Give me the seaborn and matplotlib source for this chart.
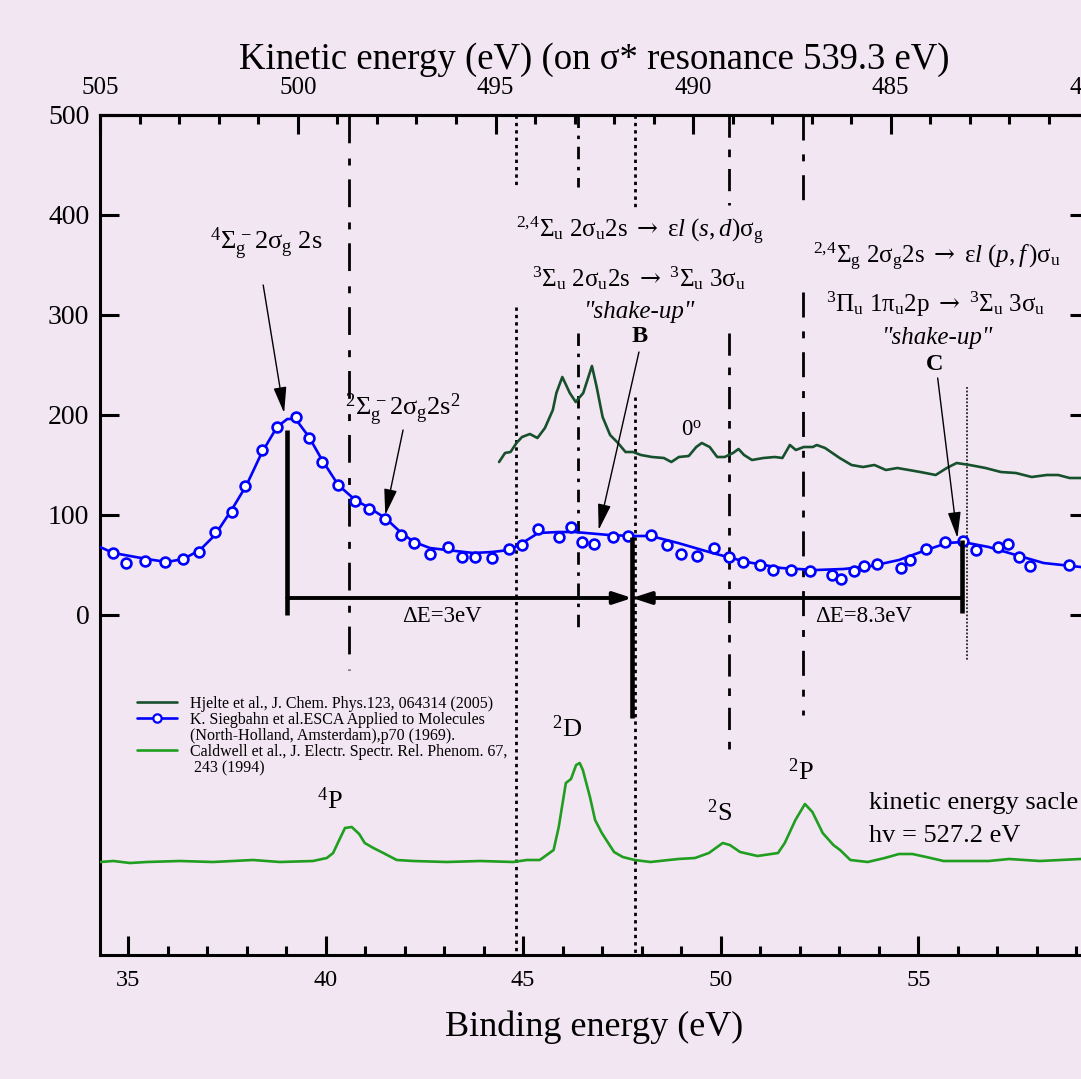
import matplotlib
matplotlib.use("Agg")
import numpy as np
import pandas as pd
import matplotlib.pyplot as plt
from matplotlib.lines import Line2D
from matplotlib.ticker import MultipleLocator, FixedLocator
import seaborn as sns

# ---------------------------------------------------------------- data
# Hjelte et al. (0 deg), binding energy (eV) / counts
hjelte_be = [44.39, 44.54, 44.68, 44.83, 44.97, 45.17, 45.36, 45.55, 45.75, 45.84,
             45.99, 46.18, 46.33, 46.52, 46.74, 46.86, 47.01, 47.20, 47.40, 47.59,
             47.78, 47.98, 48.26, 48.56, 48.75, 48.94, 49.19, 49.38, 49.52, 49.72,
             49.91, 50.10, 50.31, 50.45, 50.59, 50.79, 51.08, 51.37, 51.56, 51.75,
             51.90, 52.10, 52.33, 52.43, 52.64, 53.01, 53.31, 53.60, 53.89, 54.18,
             54.47, 54.76, 55.05, 55.44, 55.72, 55.97, 56.30, 56.70, 57.09, 57.47,
             57.87, 58.25, 58.54, 58.83, 59.11, 59.32]
hjelte_counts = [153, 162, 163, 172, 178, 181, 177, 187, 205, 222,
                 238, 222, 213, 222, 249, 228, 198, 180, 172, 163,
                 163, 160, 158, 157, 153, 158, 159, 168, 172, 168,
                 158, 158, 162, 166, 160, 155, 157, 158, 157, 170,
                 165, 168, 168, 170, 167, 157, 150, 148, 150, 145,
                 147, 145, 143, 140, 147, 152, 150, 147, 143, 142,
                 138, 140, 140, 137, 137, 135]

# Siegbahn et al. (ESCA), measured points
siegbahn_be = [34.63, 34.95, 35.44, 35.94, 36.40, 36.80, 37.20, 37.63, 37.96, 38.38,
               38.77, 39.24, 39.58, 39.92, 40.32, 40.75, 41.11, 41.51, 41.92, 42.24,
               42.64, 43.10, 43.45, 43.79, 44.21, 44.65, 44.98, 45.38, 45.90, 46.20,
               46.50, 46.79, 47.27, 47.65, 48.23, 48.63, 49.00, 49.40, 49.82, 50.20,
               50.57, 50.99, 51.32, 51.78, 52.26, 52.82, 53.04, 53.37, 53.63, 53.95,
               54.57, 54.80, 55.20, 55.67, 56.12, 56.45, 57.01, 57.28, 57.56, 57.82,
               58.81]
siegbahn_counts = [62, 52, 54, 53, 56, 63, 83, 103, 129, 165,
                   188, 198, 177, 153, 130, 114, 106, 96, 80, 72,
                   61, 68, 58, 58, 57, 66, 70, 86, 78, 88,
                   73, 71, 78, 79, 80, 70, 61, 59, 67, 58,
                   53, 50, 45, 45, 44, 40, 36, 44, 49, 51,
                   47, 55, 66, 73, 74, 65, 68, 71, 58, 49,
                   50]

# Siegbahn et al., smoothed curve
smooth_be = [34.29, 34.63, 35.47, 35.98, 36.40, 36.82, 37.20, 37.62, 38.00, 38.38,
             38.77, 39.03, 39.24, 39.58, 39.91, 40.32, 40.75, 41.11, 41.51, 41.92,
             42.24, 42.64, 43.06, 43.74, 44.21, 44.65, 44.98, 45.38, 45.90, 46.30,
             47.17, 47.76, 48.23, 48.92, 49.79, 50.66, 51.53, 52.41, 53.11, 53.81,
             54.51, 55.20, 55.73, 56.12, 56.78, 57.47, 58.17, 59.11, 59.32]
smooth_counts = [68, 62, 56, 53, 56, 65, 80, 105, 130, 162,
                 188, 196, 196, 178, 155, 130, 115, 107, 97, 82,
                 73, 67, 65, 62, 63, 65, 72, 82, 83, 83,
                 80, 79, 79, 72, 62, 53, 47, 45, 46, 49,
                 55, 65, 72, 73, 68, 60, 52, 48, 46]

# Caldwell et al. (hv = 527.2 eV), offset trace
caldwell_be = [34.29, 34.63, 35.05, 35.47, 36.31, 37.15, 38.16, 38.84, 39.68, 40.03,
               40.19, 40.32, 40.49, 40.66, 40.85, 40.99, 41.21, 41.46, 41.80, 42.22,
               43.06, 43.91, 44.75, 45.09, 45.42, 45.77, 45.90, 46.08, 46.21, 46.34,
               46.43, 46.51, 46.69, 46.82, 46.99, 47.30, 47.52, 47.82, 48.22, 48.92,
               49.35, 49.70, 50.05, 50.23, 50.49, 50.93, 51.45, 51.62, 51.89, 52.13,
               52.32, 52.58, 52.85, 53.02, 53.28, 53.72, 54.15, 54.51, 54.85, 55.20,
               55.64, 56.78, 57.30, 58.08, 59.11, 59.32]
caldwell_counts = [-247, -246, -248, -247, -246, -247, -245, -247, -246, -243,
                   -238, -227, -213, -212, -219, -228, -233, -238, -245, -246,
                   -247, -246, -247, -245, -245, -235, -212, -168, -164, -150,
                   -148, -155, -182, -205, -218, -237, -242, -245, -247, -244,
                   -243, -238, -228, -230, -237, -241, -238, -228, -205, -189,
                   -197, -218, -230, -235, -245, -247, -243, -239, -239, -242,
                   -246, -246, -244, -246, -244, -245]

# reference lines: position (eV) and the segments (counts) they span
ref_lines_be = [40.59, 44.82, 46.38, 47.83, 50.22, 52.08, 56.22]
ref_lines_segments = [[(500, -55)],
                      [(500, 430), (308, -340)],
                      [(500, 428), (282, -13)],
                      [(500, 405), (218, -340)],
                      [(500, 410), (282, -135)],
                      [(500, 415), (323, -100)],
                      [(228, -45)]]

# peak markers A, B, C: position and vertical extent
peak_be = [39.03, 47.76, 56.11]
peak_span = [(185, 0), (78, -103), (75, 2)]
delta_level = 17
delta_labels = ["ΔE=3eV", "ΔE=8.3eV"]

photon_energy = 539.3
kinetic_ticks = [505, 500, 495, 490, 485, 480]

# ---------------------------------------------------------------- style
sns.set_theme(style="ticks", rc={
    "axes.linewidth": 2.2, "axes.edgecolor": "black", "text.color": "black",
    "axes.labelcolor": "black", "xtick.color": "black", "ytick.color": "black"})
plt.rcParams["font.family"] = ["Liberation Serif", "DejaVu Serif"]
plt.rcParams["mathtext.fontset"] = "custom"
plt.rcParams["mathtext.rm"] = "Liberation Serif"
plt.rcParams["mathtext.it"] = "Liberation Serif:italic"
plt.rcParams["mathtext.bf"] = "Liberation Serif:bold"
plt.rcParams["mathtext.sf"] = "DejaVu Serif"
plt.rcParams["lines.scale_dashes"] = False

BG = "#f2e6f2"
DARK_GREEN = "#17502c"
BLUE = "#0000ff"
GREEN = "#1f9e1f"

fig = plt.figure(figsize=(10.81, 10.79), dpi=100, facecolor=BG)
ax = fig.add_axes([100 / 1081, 1 - 955 / 1079, 989 / 1081, 840 / 1079])
ax.set_facecolor(BG)

# ---------------------------------------------------------------- reference lines
line_styles = [
    dict(lw=2.0, dashes=(20, 11, 5, 10)),
    dict(lw=2.0, dashes=(2.4, 2.9)),
    dict(lw=2.0, dashes=(9, 5.5, 2.5, 5.5)),
    dict(lw=2.0, dashes=(2.4, 2.9)),
    dict(lw=2.0, dashes=(16, 8.5, 5.5, 8.5)),
    dict(lw=2.0, dashes=(18, 10, 5, 10)),
    dict(lw=1.1, dashes=(1.3, 1.3)),
]
for xb, segs, st in zip(ref_lines_be, ref_lines_segments, line_styles):
    for y0, y1 in segs:
        ax.plot([xb, xb], [y0, y1], color="black", zorder=1, **st)

# ---------------------------------------------------------------- spectra
df_h = pd.DataFrame({"be": hjelte_be, "counts": hjelte_counts})
df_s = pd.DataFrame({"be": smooth_be, "counts": smooth_counts})
df_p = pd.DataFrame({"be": siegbahn_be, "counts": siegbahn_counts})
df_c = pd.DataFrame({"be": caldwell_be, "counts": caldwell_counts})

sns.lineplot(data=df_h, x="be", y="counts", ax=ax, color=DARK_GREEN, lw=1.9,
             sort=False, estimator=None, legend=False, zorder=3)
sns.lineplot(data=df_s, x="be", y="counts", ax=ax, color=BLUE, lw=1.9,
             sort=False, estimator=None, legend=False, zorder=3)
sns.scatterplot(data=df_p, x="be", y="counts", ax=ax, color="white",
                edgecolor=BLUE, linewidth=1.9, s=50, marker="o", zorder=4,
                legend=False)
sns.lineplot(data=df_c, x="be", y="counts", ax=ax, color=GREEN, lw=1.9,
             sort=False, estimator=None, legend=False, zorder=3)

# ---------------------------------------------------------------- peak markers and energy gaps
for xb, (y0, y1) in zip(peak_be, peak_span):
    ax.plot([xb, xb], [y0, y1], color="black", lw=3.3, solid_capstyle="butt", zorder=5)

gap_style = dict(arrowstyle="-|>,head_length=0.55,head_width=0.18", lw=2.8,
                 color="black", shrinkA=0, shrinkB=0, mutation_scale=20)
ax.annotate("", xy=(peak_be[1], delta_level), xytext=(peak_be[0], delta_level),
            arrowprops=gap_style, zorder=5)
ax.annotate("", xy=(peak_be[1], delta_level), xytext=(peak_be[2], delta_level),
            arrowprops=gap_style, zorder=5)
ax.text(42.94, -2, delta_labels[0], fontsize=16.5, ha="center", va="center")
ax.text(53.62, -2, delta_labels[1], fontsize=16.5, ha="center", va="center")

# ---------------------------------------------------------------- annotations
pointer = dict(arrowstyle="-|>,head_length=0.8,head_width=0.2", lw=1.0,
               color="black", shrinkA=0, shrinkB=0, mutation_scale=20)
ARROW = r"\ \mathsf{\rightarrow}\ "
EPS = r"\mathrm{\varepsilon}"

ax.text(38.49, 372, r"$^{4}\mathrm{\Sigma}_{\mathrm{g}}^{\,-}\mathrm{2\sigma_{g}\ 2s}$",
        fontsize=19, ha="center", va="center")
ax.annotate("", xy=(38.95, 202), xytext=(38.42, 330), arrowprops=pointer)

ax.text(41.96, 205, r"$^{2}\mathrm{\Sigma}_{\mathrm{g}}^{\,-}\mathrm{2\sigma_{g}2s}^{2}$",
        fontsize=19, ha="center", va="center")
ax.annotate("", xy=(41.51, 100), xytext=(41.96, 185), arrowprops=pointer)

ax.text(47.94, 384,
        r"$^{2,\!4}\mathrm{\Sigma_{u}\ 2\sigma_{u}2s}" + ARROW + EPS +
        r"\mathit{l}\ (\mathit{s},\mathit{d})\mathrm{\sigma_{g}}$",
        fontsize=18, ha="center", va="center")
ax.text(47.93, 337,
        r"$^{3}\mathrm{\Sigma_{u}\ 2\sigma_{u}2s}" + ARROW +
        r"^{3}\mathrm{\Sigma_{u}\ 3\sigma_{u}}$",
        fontsize=18, ha="center", va="center")
ax.text(47.94, 303, '"shake-up"', fontsize=18, style="italic", ha="center", va="center")
ax.text(47.95, 279, "B", fontsize=17.5, fontweight="bold", ha="center", va="center")
ax.annotate("", xy=(46.91, 85), xytext=(47.93, 263), arrowprops=pointer)

ax.text(55.46, 358,
        r"$^{2,\!4}\mathrm{\Sigma_{g}\ 2\sigma_{g}2s}" + ARROW + EPS +
        r"\mathit{l}\ (\mathit{p},\mathit{f}\,)\mathrm{\sigma_{u}}$",
        fontsize=18, ha="center", va="center")
ax.text(55.44, 311,
        r"$^{3}\mathrm{\Pi_{u}\ 1\pi_{u}2p}" + ARROW +
        r"^{3}\mathrm{\Sigma_{u}\ 3\sigma_{u}}$",
        fontsize=18, ha="center", va="center")
ax.text(55.48, 277, '"shake-up"', fontsize=18, style="italic", ha="center", va="center")
ax.text(55.42, 251, "C", fontsize=17.5, fontweight="bold", ha="center", va="center")
ax.annotate("", xy=(55.99, 77), xytext=(55.49, 237), arrowprops=pointer)

ax.text(49.27, 185, r"$\mathrm{0^{o}}$", fontsize=16.5, ha="center", va="center")

ax.text(40.11, -186, r"$^{4}\mathrm{P}$", fontsize=19, ha="center", va="center")
ax.text(46.11, -114, r"$^{2}\mathrm{D}$", fontsize=19, ha="center", va="center")
ax.text(49.98, -198, r"$^{2}\mathrm{S}$", fontsize=19, ha="center", va="center")
ax.text(52.03, -157, r"$^{2}\mathrm{P}$", fontsize=19, ha="center", va="center")
ax.text(53.76, -188, "kinetic energy sacle", fontsize=19, ha="left", va="center")
ax.text(53.76, -221, "hv = 527.2 eV", fontsize=19, ha="left", va="center")

# ---------------------------------------------------------------- legend
handles = [
    Line2D([], [], color=DARK_GREEN, lw=1.9),
    Line2D([], [], color=BLUE, lw=1.9, marker="o", mfc="white", mec=BLUE, ms=6, mew=1.6),
    Line2D([], [], ls="none"),
    Line2D([], [], color=GREEN, lw=1.9),
    Line2D([], [], ls="none"),
]
labels = [
    "Hjelte et al., J. Chem. Phys.123, 064314 (2005)",
    "K. Siegbahn et al.ESCA Applied to Molecules",
    "(North-Holland, Amsterdam),p70 (1969).",
    "Caldwell et al., J. Electr. Spectr. Rel. Phenom. 67,",
    " 243 (1994)",
]
ax.legend(handles, labels, loc="upper left", bbox_to_anchor=(137 / 1081, 1 - 696 / 1079),
          bbox_transform=fig.transFigure, frameon=False, fontsize=11.5,
          handlelength=2.5, handletextpad=0.8, labelspacing=0.0,
          borderpad=0, borderaxespad=0)

# ---------------------------------------------------------------- axes
ax.set_xlim(34.29, 59.32)
ax.set_ylim(-340, 500)
ax.set_yticks([0, 100, 200, 300, 400, 500])
ax.xaxis.set_major_locator(MultipleLocator(5))
ax.xaxis.set_minor_locator(MultipleLocator(1))
ax.tick_params(axis="both", which="major", direction="in", length=13.5, width=2.2,
               color="black")
ax.tick_params(axis="x", which="minor", direction="in", length=6.5, width=2.2,
               top=False, bottom=True, color="black")
ax.tick_params(axis="x", which="major", top=False, labelsize=17.5, pad=11)
ax.tick_params(axis="y", left=True, right=True, labelright=False, labelsize=20, pad=7.7)
ax.set_xlabel("Binding energy (eV)", fontsize=26, labelpad=14, color="black")
ax.set_ylabel("")
for sp in ax.spines.values():
    sp.set_linewidth(2.2)
    sp.set_color("black")


def to_kinetic(be):
    return photon_energy - np.asarray(be)


sec = ax.secondary_xaxis("top", functions=(to_kinetic, to_kinetic))
sec.xaxis.set_major_locator(FixedLocator(kinetic_ticks))
sec.xaxis.set_minor_locator(FixedLocator(list(range(480, 506))))
sec.tick_params(which="major", direction="in", length=13.5, width=2.2, labelsize=18,
                pad=11.5, color="black")
sec.tick_params(which="minor", direction="in", length=6.5, width=2.2, color="black")
sec.spines["top"].set_linewidth(2.2)
sec.spines["top"].set_color("black")
sec.set_xlabel("Kinetic energy (eV) (on σ* resonance 539.3 eV)", fontsize=26.5, labelpad=6)

fig.savefig("out.png", dpi=100, facecolor=BG)
